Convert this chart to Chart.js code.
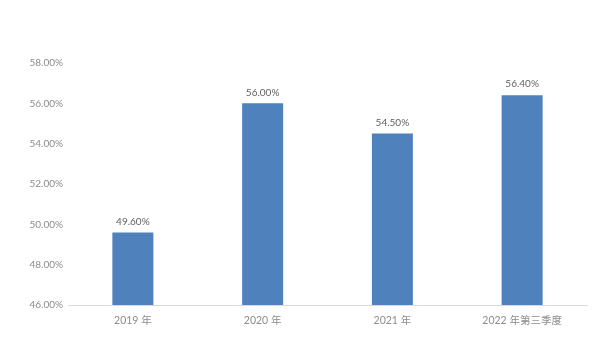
<!DOCTYPE html>
<html>
<head>
<meta charset="utf-8">
<script src="https://cdn.jsdelivr.net/npm/chart.js@4/dist/chart.umd.min.js"></script>
<style>
  html, body { margin: 0; padding: 0; background: #fff; }
  #wrap { width: 605px; height: 340px; }
</style>
</head>
<body>
<div id="wrap"><canvas id="myChart" width="605" height="340"></canvas></div>
<script>
const categorias = ['2019 年', '2020 年', '2021 年', '2022 年第三季度'];
const valores = [49.60, 56.00, 54.50, 56.40];
const eixoMin = 46;
const eixoMax = 58;
const passo = 2;

const fonteBase = "Lato, 'Noto Sans CJK SC', sans-serif";

// rótulos acima das barras
const rotulosBarras = {
    id: 'rotulosBarras',
    afterDatasetsDraw(chart) {
        const ctx = chart.ctx;
        const meta = chart.getDatasetMeta(0);
        ctx.save();
        ctx.font = '10px ' + fonteBase;
        ctx.fillStyle = '#5f5f5f';
        ctx.textAlign = 'center';
        ctx.textBaseline = 'bottom';
        meta.data.forEach((bar, i) => {
            ctx.fillText(valores[i].toFixed(2) + '%', bar.x, bar.y - 6);
        });
        ctx.restore();
    }
};

const config = {
    type: 'bar',
    data: {
        labels: categorias,
        datasets: [{
            data: valores,
            backgroundColor: '#4F81BD',
            barPercentage: 0.316,
            categoryPercentage: 1
        }]
    },
    options: {
        responsive: false,
        animation: false,
        layout: { padding: { left: 0, right: 18, top: 63, bottom: 0 } },
        plugins: {
            legend: { display: false },
            tooltip: { enabled: false }
        },
        scales: {
            x: {
                grid: { display: false, drawTicks: false },
                border: { display: true, color: '#d9d9d9', dash: [1, 2] },
                ticks: {
                    color: '#8c8c8c',
                    font: { family: fonteBase, size: 10.5 },
                    padding: 9
                },
                afterFit(scale) { scale.height = 35; }
            },
            y: {
                min: eixoMin,
                max: eixoMax,
                grid: { display: false, drawTicks: false },
                border: { display: false },
                ticks: {
                    stepSize: passo,
                    color: '#8c8c8c',
                    font: { family: fonteBase, size: 10 },
                    padding: 5,
                    callback: v => v.toFixed(2) + '%'
                },
                afterFit(scale) { scale.width = 68; }
            }
        }
    },
    plugins: [rotulosBarras]
};

const ctx = document.getElementById('myChart').getContext('2d');
new Chart(ctx, config);
</script>
</body>
</html>
